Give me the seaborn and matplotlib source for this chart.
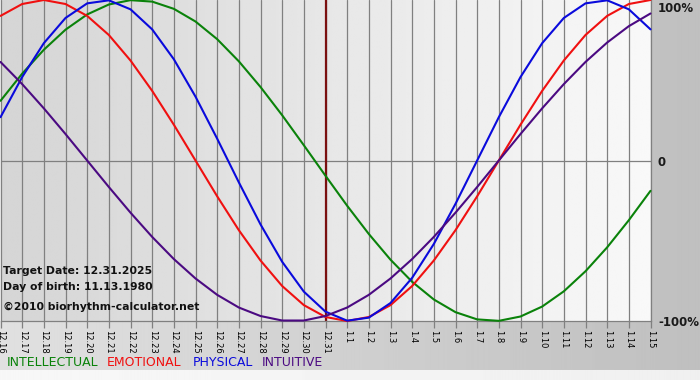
import matplotlib
matplotlib.use("Agg")
import matplotlib.pyplot as plt
import numpy as np
import pandas as pd
import seaborn as sns

sns.set_theme(style="white")
plt.rcParams["font.family"] = ["DejaVu Sans"]

DATES = ["12.16", "12.17", "12.18", "12.19", "12.20", "12.21", "12.22", "12.23",
         "12.24", "12.25", "12.26", "12.27", "12.28", "12.29", "12.30", "12.31",
         "1.1", "1.2", "1.3", "1.4", "1.5", "1.6", "1.7", "1.8", "1.9", "1.10",
         "1.11", "1.12", "1.13", "1.14", "1.15"]
TARGET = "12.31"

# percent values, one per day
INTELLECTUAL = [37.2, 54.1, 69.0, 81.5, 91.0, 97.2, 99.9, 99.0, 94.5, 86.6, 75.6,
                61.8, 45.8, 28.2, 9.5, -9.5, -28.2, -45.8, -61.8, -75.6, -86.6,
                -94.5, -99.0, -99.9, -97.2, -91.0, -81.5, -69.0, -54.1, -37.2, -18.9]
EMOTIONAL = [90.1, 97.5, 100.0, 97.5, 90.1, 78.2, 62.3, 43.4, 22.3, 0.0, -22.3,
             -43.4, -62.3, -78.2, -90.1, -97.5, -100.0, -97.5, -90.1, -78.2, -62.3,
             -43.4, -22.3, 0.0, 22.3, 43.4, 62.3, 78.2, 90.1, 97.5, 100.0]
PHYSICAL = [27.0, 52.0, 73.1, 88.8, 97.9, 99.8, 94.2, 81.7, 63.1, 39.8, 13.6,
            -13.6, -39.8, -63.1, -81.7, -94.2, -99.8, -97.9, -88.8, -73.1, -52.0,
            -27.0, 0.0, 27.0, 52.0, 73.1, 88.8, 97.9, 99.8, 94.2, 81.7]
INTUITIVE = [61.4, 47.6, 32.5, 16.5, 0.0, -16.5, -32.5, -47.6, -61.4, -73.5, -83.7,
             -91.6, -96.9, -99.7, -99.7, -96.9, -91.6, -83.7, -73.5, -61.4, -47.6,
             -32.5, -16.5, 0.0, 16.5, 32.5, 47.6, 61.4, 73.5, 83.7, 91.6]

CYCLES = {"INTELLECTUAL": INTELLECTUAL, "EMOTIONAL": EMOTIONAL,
          "PHYSICAL": PHYSICAL, "INTUITIVE": INTUITIVE}
COLORS = {"INTELLECTUAL": "#0a820a", "EMOTIONAL": "#f01010",
          "PHYSICAL": "#0a0adc", "INTUITIVE": "#4b0a82"}

rows = []
for name, vals in CYCLES.items():
    for i, v in enumerate(vals):
        rows.append({"day": i, "value": v, "cycle": name})
df = pd.DataFrame(rows)

W, H = 700, 380
fig = plt.figure(figsize=(7, 3.8), dpi=100)

# outer background gradient, lighter strip at the very bottom
bg = fig.add_axes([0, 0, 1, 1], zorder=-10)
gx = np.linspace(0, 1, 256)
img = np.tile(0.88 - 0.13 * gx, (H, 1))
img[-10:, :] = np.linspace(0.97, 0.94, 256)
bg.imshow(img, cmap="gray", vmin=0, vmax=1, aspect="auto", extent=[0, 1, 0, 1])
bg.axis("off")

ax = fig.add_axes([0.5 / W, 59 / H, 650 / W, 321 / H])
n = len(DATES)
ax.imshow(np.tile(np.linspace(0.835, 0.975, 256), (2, 1)), cmap="gray", vmin=0, vmax=1,
          aspect="auto", extent=[0, n - 1, -100, 100], zorder=0)

ax.set_xlim(0, n - 1)
ax.set_ylim(-100, 100)
ax.set_xticks(range(n), labels=DATES)
ax.set_yticks([])
ax.grid(axis="x", color="#808080", lw=0.9, zorder=1)
ax.axhline(0, color="#808080", lw=0.9, zorder=1)
ax.axvline(DATES.index(TARGET), color="#7a1010", lw=1.6, zorder=2)

sns.lineplot(data=df, x="day", y="value", hue="cycle", palette=COLORS,
             hue_order=list(CYCLES), legend=False, ax=ax, lw=1.5, sort=False,
             clip_on=False, zorder=3)
ax.set_xlabel("")
ax.set_ylabel("")

for s in ["top", "left"]:
    ax.spines[s].set_visible(False)
for s in ["bottom", "right"]:
    ax.spines[s].set_color("#808080")
    ax.spines[s].set_linewidth(0.9)

ax.tick_params(axis="x", direction="out", length=5, width=0.9, color="#808080",
               labelsize=6, pad=1.5, labelcolor="#000000", bottom=True)
for lab in ax.get_xticklabels():
    lab.set_rotation(270)
    lab.set_va("top")
    lab.set_ha("center")

# right-hand scale labels
for txt, yp in [("100%", 8), ("0", 162), ("-100%", 322)]:
    fig.text(658 / W, 1 - yp / H, txt, fontsize=8.5, fontweight="bold",
             color="#1a1a1a", va="center", ha="left")

# info block
for txt, yp in [("Target Date: 12.31.2025", 271), ("Day of birth: 11.13.1980", 287),
                ("\u00a92010 biorhythm-calculator.net", 307)]:
    fig.text(3 / W, 1 - yp / H, txt, fontsize=7.8, fontweight="bold",
             color="#111111", va="center", ha="left")

# colored legend words
for (name, col), xp in zip(COLORS.items(), [7, 107, 193, 262]):
    fig.text(xp / W, 1 - 362 / H, name, fontsize=9, color=col, va="center", ha="left")

fig.savefig("out.png", dpi=100)
